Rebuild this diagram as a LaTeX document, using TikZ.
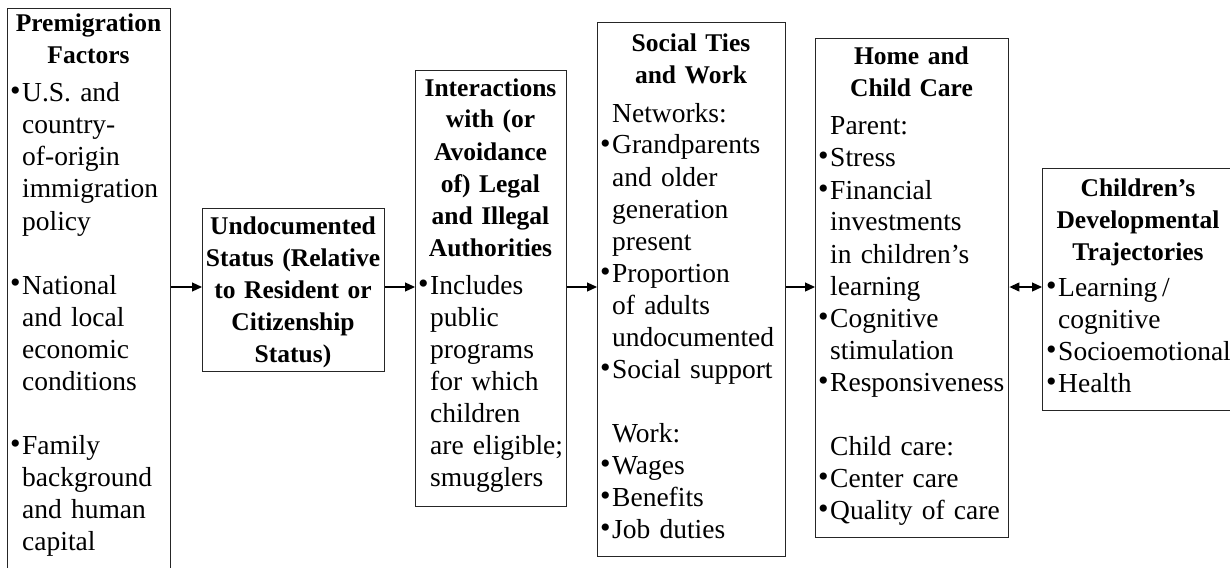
\documentclass[tikz,border=0pt]{standalone}
\usepackage{fontspec}
\setmainfont{Liberation Serif}
\usetikzlibrary{arrows.meta}
\newlength\bi \setlength\bi{12pt}
\newcommand\nl{\hfil\break}
\newcommand\bdot{\hbox to \bi{\raisebox{1pt}{\fontsize{30}{30}\selectfont\textbullet}\hss}}
\newcommand\bulf{\hangindent=\bi\hangafter=1\noindent\bdot}
\newcommand\bul{\par\bulf}
\newcommand\lblf{\noindent\hspace*{\bi}}
\newcommand\lbl{\par\lblf}
\newcommand\blank{\par\vspace{32pt}}
\newcommand\nohyph{\hyphenpenalty=10000\exhyphenpenalty=10000}
\begin{document}
\begin{tikzpicture}[x=1pt,y=-1pt,
  box/.style={draw=black!85, line width=1.4pt, inner sep=0pt, anchor=north west},
  ttl/.style={inner sep=0pt, anchor=base, text width=240pt, align=center,
    font=\fontsize{25.5}{32}\selectfont\bfseries\nohyph},
  txt/.style={inner sep=0pt, anchor=base west, text width=230pt, align=left,
    font=\fontsize{27.5}{32}\selectfont\nohyph},
  arr/.style={-{Triangle[length=10pt,width=9pt]}, line width=1.2pt},
  darr/.style={{Triangle[length=10pt,width=9pt]}-{Triangle[length=10pt,width=9pt]}, line width=1.2pt}]
\useasboundingbox (0,0) rectangle (1230,567);
\fill[white] (0,0) rectangle (1230,567);
% boxes
\node[box, minimum width=163pt, minimum height=600pt] (b1) at (7,8) {};
\node[box, minimum width=182pt, minimum height=163pt] (b2) at (202,208) {};
\node[box, minimum width=151pt, minimum height=436pt] (b3) at (415,70) {};
\node[box, minimum width=188pt, minimum height=534pt] (b4) at (597,22) {};
\node[box, minimum width=193pt, minimum height=499pt] (b5) at (815,38) {};
\node[box, minimum width=220pt, minimum height=242pt] (b6) at (1042,168) {};
% titles
\node[ttl] (h1) at (88.5,32) {Premigration\\Factors};
\node[ttl] (h2) at (293,234) {Undocumented\\Status (Relative\\to Resident or\\Citizenship\\Status)};
\node[ttl] (h3) at (490.5,96) {Interactions\\with (or\\Avoidance\\of) Legal\\and Illegal\\Authorities};
\node[ttl] (h4) at (691,52) {Social Ties\\and Work};
\node[ttl] (h5) at (911.5,65) {Home and\\Child Care};
\node[ttl] (h6) at (1138,196) {Children’s\\Developmental\\Trajectories};
% bodies
\node[txt] (t1) at (10,102) {%
\bulf U.S. and\nl country-\nl of-origin\nl immigration\nl policy
\blank
\bul National\nl and local\nl economic\nl conditions
\blank
\bul Family\nl background\nl and human\nl capital\par};
\node[txt] (t3) at (418,294) {%
\bulf Includes\nl public\nl programs\nl for which\nl children\nl are eligible;\nl smugglers\par};
\node[txt] (t4) at (600,122) {%
\lblf Networks:
\bul Grandparents\nl and older\nl generation\nl present
\bul Proportion\nl of adults\nl undocumented
\bul Social support
\blank
\lbl Work:
\bul Wages
\bul Benefits
\bul Job duties\par};
\node[txt] (t5) at (818,135) {%
\lblf Parent:
\bul Stress
\bul Financial\nl investments\nl in children’s\nl learning
\bul Cognitive\nl stimulation
\bul Responsiveness
\blank
\lbl Child care:
\bul Center care
\bul Quality of care\par};
\node[txt] (t6) at (1046,296) {%
\bulf Learning\,/\nl cognitive
\bul Socioemotional
\bul Health\par};
% connectors
\coordinate (ay) at (0,287);
\draw[arr] (b1.east |- ay) -- (b2.west |- ay);
\draw[arr] (b2.east |- ay) -- (b3.west |- ay);
\draw[arr] (b3.east |- ay) -- (b4.west |- ay);
\draw[arr] (b4.east |- ay) -- (b5.west |- ay);
\draw[darr] (b5.east |- ay) -- (b6.west |- ay);
\end{tikzpicture}
\end{document}
